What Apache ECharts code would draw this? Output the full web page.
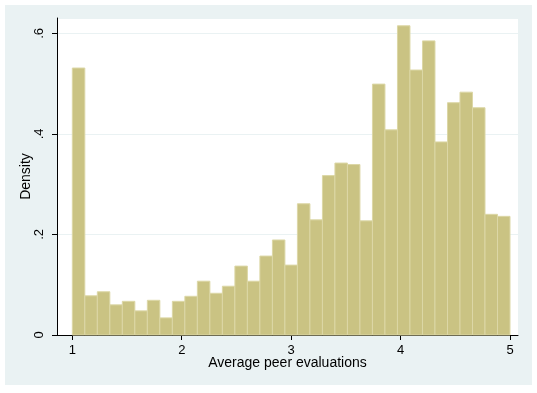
<!DOCTYPE html>
<html>
<head>
<meta charset="utf-8">
<script src="https://cdn.jsdelivr.net/npm/echarts@6/dist/echarts.min.js"></script>
<style>
html,body{margin:0;padding:0;background:#fff;}
#chart{width:537px;height:393px;}
</style>
</head>
<body>
<div id="chart"></div>
<script>
// Histogram: 35 equal-width bins from 1 to 5
const binLow = 1;
const binHigh = 5;
const densities = [
  0.531, 0.078, 0.086, 0.060, 0.067, 0.048, 0.069, 0.034, 0.067, 0.077,
  0.107, 0.083, 0.097, 0.137, 0.107, 0.157, 0.189, 0.139, 0.261, 0.229,
  0.317, 0.342, 0.339, 0.227, 0.499, 0.408, 0.615, 0.527, 0.585, 0.384,
  0.462, 0.483, 0.452, 0.240, 0.236
];
const xTickValues = [1, 2, 3, 4, 5];
const yTickLabels = ['0', '.2', '.4', '.6'];
const xTitle = 'Average peer evaluations';
const yTitle = 'Density';

const binW = (binHigh - binLow) / densities.length;
const histData = densities.map((d, i) => [binLow + i * binW, binLow + (i + 1) * binW, d]);

const chart = echarts.init(document.getElementById('chart'), null, {renderer: 'canvas'});
const font = 'Liberation Sans, Arial, sans-serif';
chart.setOption({
  backgroundColor: '#ffffff',
  animation: false,
  graphic: [{
    type: 'rect', z: -10, silent: true,
    shape: {x: 5, y: 5, width: 527, height: 380},
    style: {fill: '#EAF2F3'}
  }],
  grid: {
    left: 57, top: 18, right: 19, bottom: 58,
    show: true, backgroundColor: '#ffffff', borderWidth: 0
  },
  xAxis: {
    type: 'value',
    min: 0.860, max: 5.073,
    name: xTitle, nameLocation: 'middle', nameGap: 21, nameMoveOverlap: false,
    nameTextStyle: {fontFamily: font, fontSize: 14, color: '#000'},
    axisLine: {show: true, onZero: false, lineStyle: {color: '#000', width: 1}},
    axisTick: {show: true, length: 5, lineStyle: {color: '#000'}, customValues: xTickValues},
    axisLabel: {fontFamily: font, fontSize: 13, color: '#000', margin: 9, customValues: xTickValues},
    splitLine: {show: false}
  },
  yAxis: {
    type: 'value',
    min: 0, max: 0.6305, interval: 0.2,
    name: yTitle, nameLocation: 'middle', nameGap: 24, nameRotate: 90, nameMoveOverlap: false,
    nameTextStyle: {fontFamily: font, fontSize: 14, color: '#000'},
    axisLine: {show: true, lineStyle: {color: '#000', width: 1}},
    axisTick: {show: true, length: 5, lineStyle: {color: '#000'}},
    axisLabel: {
      fontFamily: font, fontSize: 13, color: '#000', rotate: 90, margin: 11,
      showMaxLabel: false,
      formatter: v => yTickLabels[Math.round(v / 0.2)] || ''
    },
    splitLine: {show: true, lineStyle: {color: '#EAF2F3', width: 1}}
  },
  series: [{
    type: 'custom',
    data: histData,
    renderItem: function (params, api) {
      const p0 = api.coord([api.value(0), 0]);
      const p1 = api.coord([api.value(1), api.value(2)]);
      return {
        type: 'rect',
        shape: {x: p0[0], y: p1[1], width: p1[0] - p0[0], height: p0[1] - p1[1]},
        style: {fill: '#CAC383', stroke: '#DCD7A6', lineWidth: 1}
      };
    },
    encode: {x: [0, 1], y: 2}
  }]
});
</script>
</body>
</html>
